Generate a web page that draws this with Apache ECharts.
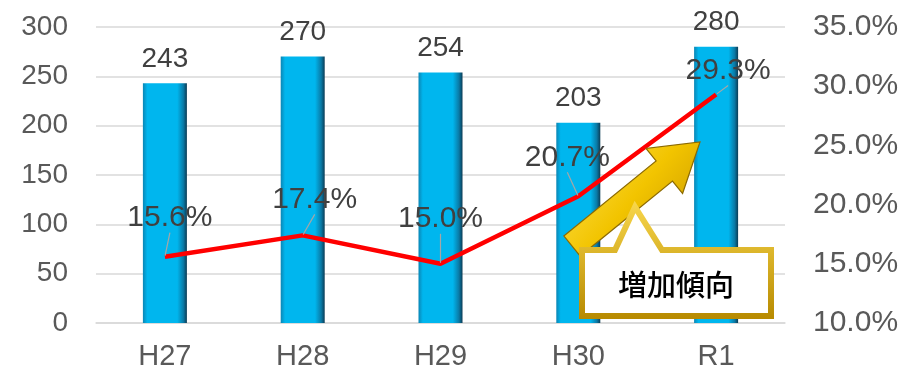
<!DOCTYPE html>
<html>
<head>
<meta charset="utf-8">
<script src="https://cdn.jsdelivr.net/npm/echarts@6/dist/echarts.min.js"></script>
<style>
html,body{margin:0;padding:0;background:#fff;}
#chart{width:915px;height:374px;}
</style>
</head>
<body>
<div id="chart"></div>
<script>
// ---- data ----
const categories = ['H27', 'H28', 'H29', 'H30', 'R1'];
const countValues = [243, 270, 254, 203, 280];
const rateValues = [15.6, 17.4, 15.0, 20.7, 29.3];
const calloutText = '増加傾向';

// ---- label offsets (layout only) ----
const rateLabelShift = [[5, -23], [12, -20], [0, -29], [-11, -23], [12, -8]];

const FONT = '"Liberation Sans", Arial, sans-serif';
const chart = echarts.init(document.getElementById('chart'), null, {renderer: 'canvas'});

const grid = {left: 96, right: 130, top: 27, bottom: 51};

const barGradient = new echarts.graphic.LinearGradient(0, 0, 1, 0, [
  {offset: 0, color: '#0a86b5'},
  {offset: 0.1, color: '#00b6ee'},
  {offset: 0.78, color: '#00b6ee'},
  {offset: 0.92, color: '#0a7aa6'},
  {offset: 1, color: '#0b3c55'}
]);

const option = {
  animation: false,
  grid: grid,
  xAxis: {
    type: 'category',
    data: categories,
    axisTick: {show: false},
    axisLine: {lineStyle: {color: '#d9d9d9', width: 1.5}},
    axisLabel: {color: '#595959', fontSize: 29, fontFamily: FONT, margin: 19}
  },
  yAxis: [{
    type: 'value', min: 0, max: 300, interval: 50,
    axisLine: {show: false}, axisTick: {show: false},
    splitLine: {lineStyle: {color: '#d9d9d9', width: 1.5}},
    axisLabel: {color: '#595959', fontSize: 28, fontFamily: FONT, margin: 28}
  }, {
    type: 'value', min: 10, max: 35, interval: 5,
    axisLine: {show: false}, axisTick: {show: false},
    splitLine: {show: false},
    axisLabel: {color: '#595959', fontSize: 30, fontFamily: FONT, margin: 28,
      formatter: v => v.toFixed(1) + '%'}
  }],
  series: [{
    type: 'bar',
    data: countValues,
    barWidth: 44,
    itemStyle: {color: barGradient},
    label: {show: true, position: 'top', distance: 10, color: '#404040', fontSize: 28, fontFamily: FONT},
    z: 2
  }, {
    type: 'line',
    yAxisIndex: 1,
    data: rateValues,
    symbol: 'circle',
    symbolSize: 2,
    showSymbol: true,
    itemStyle: {color: 'rgba(255,0,0,0)', borderWidth: 0},
    lineStyle: {color: '#ff0000', width: 4.5},
    label: {show: true, position: 'top', distance: 0, color: '#404040', fontSize: 30, fontFamily: FONT,
      formatter: p => p.value.toFixed(1) + '%'},
    labelLine: {show: true, lineStyle: {color: '#a6a6a6', width: 1.2}},
    labelLayout: p => ({dx: rateLabelShift[p.dataIndex][0], dy: rateLabelShift[p.dataIndex][1]}),
    z: 5
  }]
};
chart.setOption(option);

// ---- decorative arrow and callout ----
function buildGraphics() {
  const tail = [572, 246];
  const tip = [700, 142];
  const dx = tip[0] - tail[0], dy = tip[1] - tail[1];
  const L = Math.sqrt(dx * dx + dy * dy);
  const ang = Math.atan2(dy, dx);
  const sw = 13, hw = 29, hl = 46;
  const local = [[0, -sw], [L - hl, -sw], [L - hl, -hw], [L, 0], [L - hl, hw], [L - hl, sw], [0, sw]];
  const pts = local.map(([x, y]) => [
    tail[0] + x * Math.cos(ang) - y * Math.sin(ang),
    tail[1] + x * Math.sin(ang) + y * Math.cos(ang)
  ]);
  const gold = new echarts.graphic.LinearGradient(0, 0, 1, 1, [
    {offset: 0, color: '#ffe45a'},
    {offset: 0.5, color: '#f2c400'},
    {offset: 1, color: '#c29100'}
  ]);
  const boxBorder = new echarts.graphic.LinearGradient(0, 0, 0, 1, [
    {offset: 0, color: '#f7d54a'},
    {offset: 1, color: '#b78a00'}
  ]);
  chart.setOption({
    graphic: [{
      type: 'polygon', z: 20,
      shape: {points: pts},
      style: {fill: gold, stroke: '#8c6a00', lineWidth: 1.2}
    }, {
      type: 'polygon', z: 21,
      shape: {points: [[582, 250], [615, 250], [635, 207], [662, 250], [771, 250], [771, 316], [582, 316]]},
      style: {fill: '#ffffff', stroke: boxBorder, lineWidth: 6, lineJoin: 'miter'}
    }, {
      type: 'text', z: 22,
      style: {
        text: calloutText, x: 676, y: 285, align: 'center', verticalAlign: 'middle',
        fill: '#000000', fontSize: 29, fontWeight: 500, fontFamily: '"Noto Sans CJK JP", sans-serif'
      }
    }]
  });
}
buildGraphics();
</script>
</body>
</html>
